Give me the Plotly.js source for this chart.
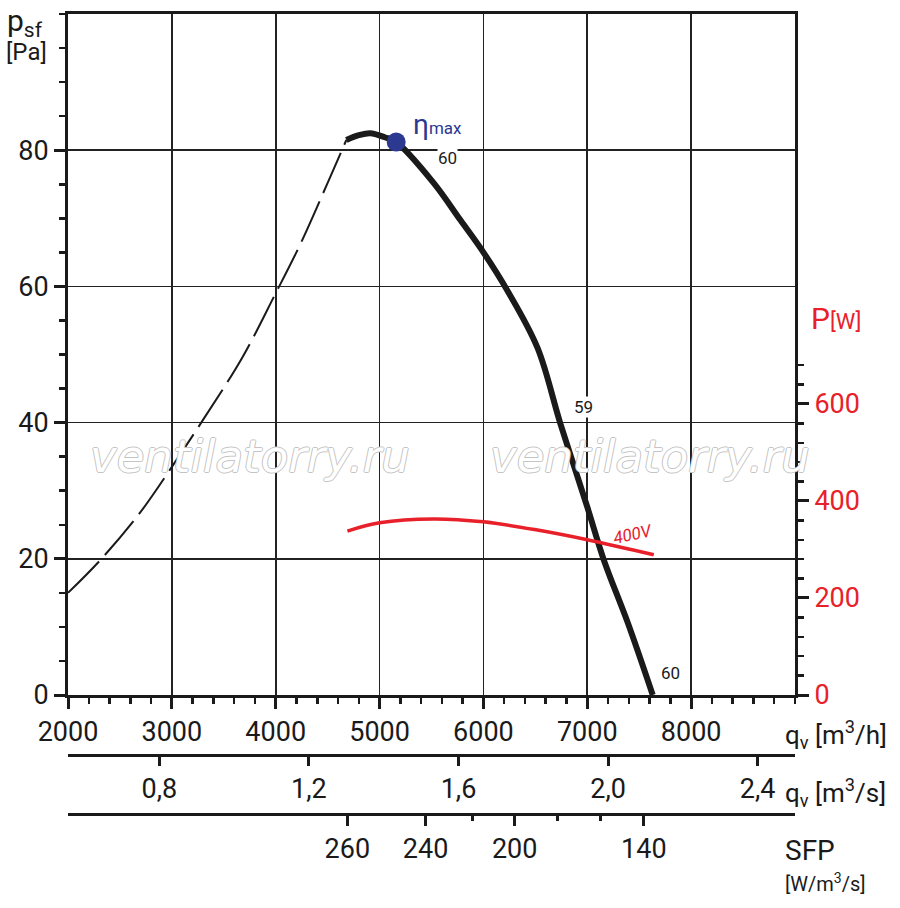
<!DOCTYPE html>
<html>
<head>
<meta charset="utf-8">
<script src="https://cdn.plot.ly/plotly-3.0.1.min.js"></script>
<style>
  html, body { margin: 0; padding: 0; background: #fff; }
  #chart { width: 900px; height: 908px; }
</style>
</head>
<body>
<div id="chart"></div>
<script>
// pressure curve, unstable part (dashed) - q in m3/h, p in Pa
var dashQ = [2000, 2310, 2690, 3000, 3300, 3680, 4000, 4240, 4500, 4680];
var dashP = [15.0, 19.8, 26.7, 33.5, 40.4, 49.6, 59.0, 66.3, 75.2, 81.5];

// pressure curve, working part (solid)
var workQ = [4680, 4800, 4910, 5050, 5160, 5520, 5780, 6000, 6230, 6520, 6740, 7000, 7160, 7390, 7630];
var workP = [81.5, 82.2, 82.5, 81.9, 81.2, 75.2, 69.7, 65.0, 59.4, 51.0, 39.9, 27.6, 19.8, 10.6, 0];

// power input at 400V, W
var powQ = [4690, 5000, 5520, 6000, 6520, 7000, 7640];
var powW = [338, 355, 363, 357, 340, 320, 289];

// max efficiency point
var etaQ = [5160];
var etaP = [81.2];

// labels along the curve
var curveLabelQ = [5655, 6966, 7805];
var curveLabelP = [78.8, 42.3, 3.2];
var curveLabelText = ['60', '59', '60'];

// axes ticks
var qTicks = [2000, 3000, 4000, 5000, 6000, 7000, 8000];
var pTicks = [0, 20, 40, 60, 80];
var wTicks = [0, 200, 400, 600];
var wMinor = [40, 80, 120, 160, 240, 280, 320, 360, 440, 480, 520, 560, 640, 680];
var qsTicks = [0.8, 1.2, 1.6, 2.0, 2.4];
var qsText = ['0,8', '1,2', '1,6', '2,0', '2,4'];
var sfpMajorQ = [4690, 5443, 6301, 7545];
var sfpMajorText = ['260', '240', '200', '140'];
var sfpMinorQ = [5896, 6716, 7130];

var ink = '#1a1a1a';
var red = '#e8202a';
var blue = '#2b3990';
var fnt = 'Roboto, "Liberation Sans", sans-serif';

// pixel -> paper helpers (plot area x 68..795, y 14..908)
function px(x) { return (x - 68) / 727; }
function py(y) { return (908 - y) / 894; }

var traces = [
  { x: dashQ, y: dashP, mode: 'lines', line: { color: ink, width: 2, dash: '44px,9px', shape: 'spline' }, hoverinfo: 'skip' },
  { x: workQ, y: workP, mode: 'lines', line: { color: ink, width: 6, shape: 'spline' }, hoverinfo: 'skip' },
  { x: powQ, y: powW, yaxis: 'y2', mode: 'lines', line: { color: red, width: 3.5, shape: 'spline' }, hoverinfo: 'skip' },
  { x: etaQ, y: etaP, mode: 'markers', marker: { color: blue, size: 19 }, hoverinfo: 'skip' },
  { x: [], y: [], xaxis: 'x2', mode: 'lines' },
  { x: [], y: [], xaxis: 'x3', mode: 'lines' }
];

function label(x, y, text, size, color, xanchor) {
  return { xref: 'paper', yref: 'paper', x: px(x), y: py(y), xanchor: xanchor || 'left', yanchor: 'middle',
    text: text, showarrow: false, font: { family: fnt, size: size, color: color || ink } };
}

var annotations = [];
curveLabelText.forEach(function(t, i) {
  annotations.push({ x: curveLabelQ[i], y: curveLabelP[i], text: t, showarrow: false,
    xanchor: 'center', yanchor: 'middle',
    font: { family: fnt, size: 17, color: ink }, bgcolor: '#fff', borderpad: 0 });
});

var wmFont = { family: '"DejaVu Sans", sans-serif', size: 45, color: '#fff',
  shadow: '1px 0 0 #c4c4c4, -1px 0 0 #c4c4c4, 0 1px 0 #c4c4c4, 0 -1px 0 #c4c4c4' };

annotations.push(
  { x: 5560, y: 83.8, xanchor: 'center', yanchor: 'middle',
    text: 'η<span style="font-size:17px">max</span>', showarrow: false,
    font: { family: fnt, size: 28, color: blue } },
  { x: 7440, y: 332, yref: 'y2', xanchor: 'center', yanchor: 'middle',
    text: '<i>400V</i>', textangle: -12, showarrow: false,
    font: { family: fnt, size: 17, color: red } },
  // watermark
  { x: 3755, y: 35, xanchor: 'center', yanchor: 'middle', text: '<i>ventilatorry.ru</i>', showarrow: false, font: wmFont },
  { x: 7600, y: 35, xanchor: 'center', yanchor: 'middle', text: '<i>ventilatorry.ru</i>', showarrow: false, font: wmFont },
  // axis titles
  label(5, 22, 'p<sub>sf</sub>', 30),
  label(4, 52, '[Pa]', 24),
  label(836, 318, 'P<span style="font-size:22px">[W]</span>', 30, red, 'center'),
  label(783, 734, 'q<sub>v</sub> [m<sup>3</sup>/h]', 26),
  label(783, 792, 'q<sub>v</sub> [m<sup>3</sup>/s]', 26),
  label(783, 850, 'SFP', 28),
  label(783, 883, '[W/m<sup>3</sup>/s]', 20)
);

var layout = {
  width: 900,
  height: 908,
  margin: { l: 68, r: 105, t: 14, b: 0 },
  paper_bgcolor: '#fff',
  plot_bgcolor: '#fff',
  showlegend: false,
  font: { family: fnt, color: ink },
  xaxis: {
    range: [2000, 9000], tickvals: qTicks, ticks: 'outside', ticklen: 11, tickwidth: 3, tickcolor: ink,
    minor: { dtick: 200, tick0: 2000, ticks: 'outside', ticklen: 6, tickwidth: 2.5, tickcolor: ink, showgrid: false },
    showgrid: true, gridcolor: '#222', gridwidth: 1.6, zeroline: false,
    showline: true, linecolor: ink, linewidth: 3, mirror: true,
    tickfont: { family: fnt, size: 27, color: ink }, automargin: false
  },
  xaxis2: {
    overlaying: 'x', anchor: 'free', position: py(755), side: 'bottom',
    range: [2000 / 3600, 9000 / 3600], tickvals: qsTicks, ticktext: qsText,
    ticks: 'outside', ticklen: 9, tickwidth: 3, tickcolor: ink, showgrid: false, zeroline: false,
    showline: true, linecolor: ink, linewidth: 3,
    tickfont: { family: fnt, size: 27, color: ink }, automargin: false
  },
  xaxis3: {
    overlaying: 'x', anchor: 'free', position: py(814), side: 'bottom',
    range: [2000, 9000], tickvals: sfpMajorQ, ticktext: sfpMajorText,
    ticks: 'outside', ticklen: 10, tickwidth: 3, tickcolor: ink,
    minor: { tickvals: sfpMinorQ, ticks: 'outside', ticklen: 5, tickwidth: 3, tickcolor: ink, showgrid: false },
    showgrid: false, zeroline: false,
    showline: true, linecolor: ink, linewidth: 3,
    tickfont: { family: fnt, size: 27, color: ink }, automargin: false
  },
  yaxis: {
    domain: [py(695), 1], range: [0, 100], tickvals: pTicks, ticks: 'outside', ticklen: 11, tickwidth: 3, tickcolor: ink,
    minor: { dtick: 5, tick0: 0, ticks: 'outside', ticklen: 6, tickwidth: 2.5, tickcolor: ink, showgrid: false },
    showgrid: true, gridcolor: '#222', gridwidth: 1.6, zeroline: false,
    showline: true, linecolor: ink, linewidth: 3,
    tickfont: { family: fnt, size: 27, color: ink }, automargin: false
  },
  yaxis2: {
    overlaying: 'y', side: 'right', range: [0, 1404], tickvals: wTicks, ticks: 'outside', ticklen: 11, tickwidth: 3, tickcolor: ink,
    minor: { tickvals: wMinor, ticks: 'outside', ticklen: 6, tickwidth: 2.5, tickcolor: ink, showgrid: false },
    showgrid: false, zeroline: false,
    showline: true, linecolor: ink, linewidth: 3,
    tickfont: { family: fnt, size: 27, color: red }, automargin: false
  },
  annotations: annotations
};

Plotly.newPlot('chart', traces, layout, { staticPlot: true });
</script>
</body>
</html>
